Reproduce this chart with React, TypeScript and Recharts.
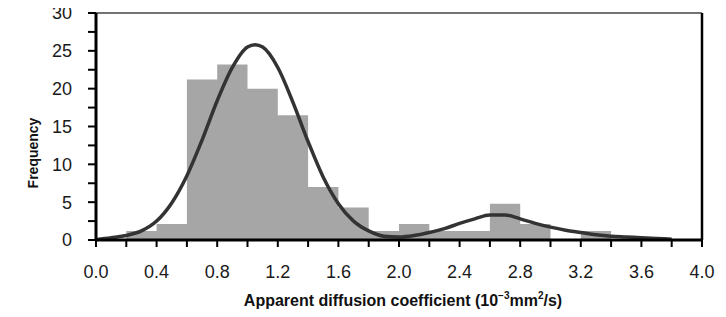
import { ComposedChart, Area, Line, XAxis, YAxis, ReferenceLine } from 'recharts';

// histogram bins (0.2 wide), heights
const binStart = [0, 0.2, 0.4, 0.6, 0.8, 1.0, 1.2, 1.4, 1.6, 1.8, 2.0, 2.2, 2.4, 2.6, 2.8, 3.0, 3.2, 3.4, 3.6, 3.8];
const binCount = [0, 1.2, 2.1, 21.2, 23.2, 20.0, 16.5, 7.0, 4.3, 1.2, 2.1, 1.2, 1.2, 4.8, 2.1, 0, 1.2, 0, 0, 0];

// fitted curve
const curveX = [0, 0.1, 0.2, 0.3, 0.4, 0.5, 0.6, 0.7, 0.8, 0.9, 1.0, 1.05, 1.1, 1.2, 1.3, 1.4, 1.5, 1.6, 1.7, 1.8, 1.9, 2.0,
  2.1, 2.2, 2.3, 2.4, 2.5, 2.6, 2.7, 2.8, 2.9, 3.0, 3.1, 3.2, 3.3, 3.4, 3.5, 3.6, 3.7, 3.8];
const curveY = [0.05, 0.3, 0.6, 1.2, 2.5, 4.9, 8.5, 13.2, 18.4, 22.8, 25.5, 25.8, 25.5, 22.8, 18.2, 13.0, 8.3, 4.8, 2.5, 1.2, 0.5, 0.4,
  0.6, 1.0, 1.5, 2.2, 2.8, 3.3, 3.3, 2.8, 2.2, 1.7, 1.3, 1.0, 0.7, 0.5, 0.4, 0.3, 0.2, 0.1];

const xTicks = [0, 0.2, 0.4, 0.6, 0.8, 1.0, 1.2, 1.4, 1.6, 1.8, 2.0, 2.2, 2.4, 2.6, 2.8, 3.0, 3.2, 3.4, 3.6, 3.8, 4.0];
const yTicks = [0, 2.5, 5, 7.5, 10, 12.5, 15, 17.5, 20, 22.5, 25, 27.5, 30];

const r = (v: number) => Math.round(v * 100) / 100;

const xs = Array.from(new Set([...binStart, ...curveX, 4.0].map(r))).sort((a, b) => a - b);
const data = xs.map(x => {
  const ci = curveX.findIndex(c => r(c) === x);
  const bi = binStart.findIndex(b => x >= r(b) - 1e-9 && x < r(b + 0.2) - 1e-9);
  return {
    x,
    curve: ci >= 0 ? curveY[ci] : null,
    hist: bi >= 0 ? binCount[bi] : 0,
  };
});

const tickFont = { fontFamily: 'Liberation Sans, Arial, sans-serif', fontSize: 18, fill: '#1a1a1a' };

const XTitle = (props: any) => {
  const vb = props.viewBox;
  return (
    <text x={vb.x + vb.width / 2 + 4} y={vb.y + 66} textAnchor="middle"
      style={{ fontFamily: 'Liberation Sans, Arial, sans-serif', fontSize: 16, fontWeight: 'bold', fill: '#111' }}>
      Apparent diffusion coefficient (10
      <tspan dy={-7} fontSize={10}>−3</tspan>
      <tspan dy={7}>mm</tspan>
      <tspan dy={-7} fontSize={10}>2</tspan>
      <tspan dy={7}>/s)</tspan>
    </text>
  );
};

const YTitle = (props: any) => {
  const vb = props.viewBox;
  const cx = vb.x + 17;
  const cy = 153;
  return (
    <text x={cx} y={cy} textAnchor="middle" dominantBaseline="central" transform={`rotate(-90 ${cx} ${cy})`}
      style={{ fontFamily: 'Liberation Sans, Arial, sans-serif', fontSize: 14, fontWeight: 'bold', fill: '#111' }}>
      Frequency
    </text>
  );
};

export default function App() {
  return (
    <div style={{ marginTop: -8, marginLeft: -8, width: 726, height: 317 }}>
      <ComposedChart width={726} height={317} data={data} margin={{ top: 13, right: 24, bottom: 7, left: 16 }}>
        <XAxis
          dataKey="x"
          type="number"
          domain={[0, 4]}
          ticks={xTicks}
          interval={0}
          tickFormatter={(v: number) => (Math.round(v * 10) % 4 === 0 ? v.toFixed(1) : '')}
          tick={tickFont}
          tickSize={7}
          tickMargin={18}
          height={70}
          axisLine={{ stroke: '#000', strokeWidth: 3 }}
          tickLine={{ stroke: '#000', strokeWidth: 2 }}
          label={{ content: XTitle }}
        />
        <YAxis
          type="number"
          domain={[0, 30]}
          ticks={yTicks}
          interval={0}
          tickFormatter={(v: number) => (v % 5 === 0 ? String(v) : '')}
          tick={tickFont}
          tickSize={8}
          tickMargin={16}
          width={80}
          axisLine={{ stroke: '#000', strokeWidth: 3 }}
          tickLine={{ stroke: '#000', strokeWidth: 2 }}
          label={{ content: YTitle }}
        />
        <Area dataKey="hist" type="stepAfter" fill="#a6a6a6" fillOpacity={1} stroke="none" isAnimationActive={false} />
        <ReferenceLine y={30} stroke="#444" strokeWidth={1.5} />
        <ReferenceLine x={4} stroke="#000" strokeWidth={2.5} />
        <Line dataKey="curve" type="monotone" stroke="#333" strokeWidth={3.5} dot={false} activeDot={false} isAnimationActive={false} />
      </ComposedChart>
    </div>
  );
}
